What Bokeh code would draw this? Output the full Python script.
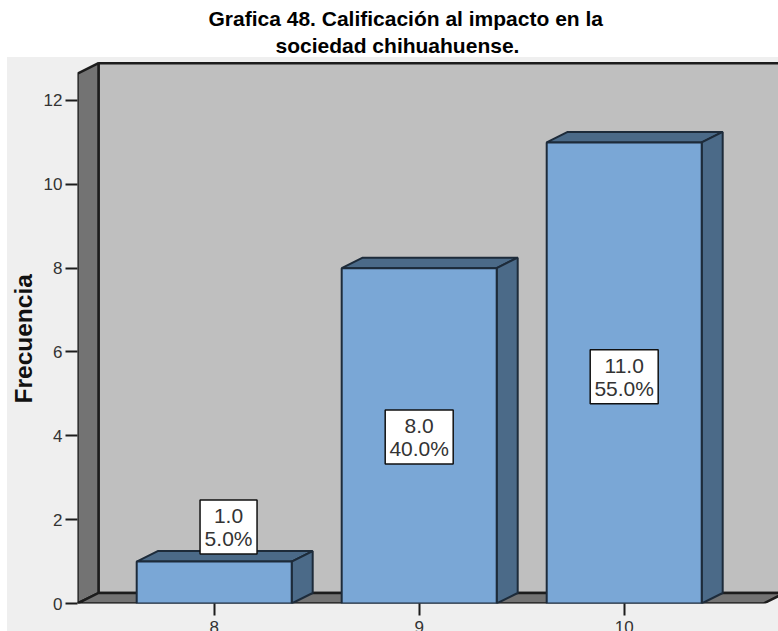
from bokeh.plotting import figure
from bokeh.embed import file_html
from bokeh.resources import INLINE
from bokeh.models import FixedTicker, Title
from bokeh.core.properties import value

categories = [8, 9, 10]
frequencies = [1.0, 8.0, 11.0]
percents = [5.0, 40.0, 55.0]
y_ticks = [0, 2, 4, 6, 8, 10, 12]
title_lines = ["Grafica 48. Calificación al impacto en la", "sociedad chihuahuense."]
title_left = [208, 275]
y_label = "Frecuencia"
label_shift_x = [0.07, 0.0, 0.0]
label_y = [1.825, 3.97, 5.41]

W, H = 778, 631
L, R, T, B = 77, 778, 57, 603
PX_X, PX_Y = 205.0, 41.92
X0 = 213.7
x_lo = 8 + (L - X0) / PX_X
x_hi = 8 + (R - X0) / PX_X
y_top = (B - T) / PX_Y
DX, DY = 21 / PX_X, 10.5 / PX_Y
bar_w = 155 / PX_X
wall_top = 12.64

BACK = "#bfbfbf"; WALL = "#737373"; PAGE = "#efefef"; LINE = "#1c1c1c"
FRONT = "#7aa7d6"; SIDE = "#4b6a88"; BAR_LINE = "#1d2b3a"; TXT = "#333333"

p = figure(width=W, height=H, frame_width=R - L, frame_height=B - T,
           x_range=(x_lo, x_hi), y_range=(0, y_top),
           output_backend="svg", toolbar_location=None,
           min_border_left=L, min_border_right=0, min_border_top=T, min_border_bottom=H - B)
p.styles = {"position": "absolute", "left": "0px", "top": "0px",
            "background": f"linear-gradient({PAGE},{PAGE}) 7px {T}px / {W - 7}px {H - T}px no-repeat, white"}
p.grid.visible = False
p.outline_line_color = None
p.background_fill_color = PAGE
p.border_fill_color = None

# walls and floor
wl = x_lo
p.patch([wl + DX, x_hi + 1, x_hi + 1, wl + DX], [DY, DY, wall_top + DY, wall_top + DY],
        fill_color=BACK, line_color=LINE, line_width=2.5)
p.patch([wl, wl + DX, wl + DX, wl], [0, DY, wall_top + DY, wall_top],
        fill_color=WALL, line_color=LINE, line_width=2.5)
floor_end = 8 + (763 - X0) / PX_X
p.patch([wl, wl + DX, floor_end + DX, floor_end], [0, DY, DY, 0],
        fill_color=WALL, line_color=LINE, line_width=2.5)

# bars
for c, f in zip(categories, frequencies):
    l, r = c - bar_w / 2, c + bar_w / 2
    p.patch([l, l + DX, r + DX, r], [f, f + DY, f + DY, f], fill_color=SIDE, line_color=BAR_LINE, line_width=2)
    p.patch([r, r + DX, r + DX, r], [0, DY, f + DY, f], fill_color=SIDE, line_color=BAR_LINE, line_width=2)
p.quad(left=[c - bar_w / 2 for c in categories], right=[c + bar_w / 2 for c in categories],
       bottom=0, top=frequencies, fill_color=FRONT, line_color=BAR_LINE, line_width=2)

# value labels
for c, f, pct, sx, ly in zip(categories, frequencies, percents, label_shift_x, label_y):
    cx = c + sx
    bw = (57 if pct < 10 else 68) / PX_X
    p.rect([cx], [ly], width=bw, height=54 / PX_Y, fill_color="white", line_color="#111111", line_width=1.5)
    p.text([cx], [ly], text=[f"{f:.1f}\n{pct:.1f}%"], text_align="center", text_baseline="middle",
           text_font=value("Liberation Sans"), text_font_size="21px", text_color=TXT, text_line_height=1.0)

# axes
ax = p.yaxis[0]
ax.ticker = FixedTicker(ticks=y_ticks)
ax.axis_line_color = None
ax.major_tick_line_color = LINE
ax.major_tick_line_width = 2
ax.major_tick_in = 0
ax.major_tick_out = 12
ax.minor_tick_line_color = None
ax.major_label_text_font = "Liberation Sans"
ax.major_label_text_font_size = "17px"
ax.major_label_text_color = TXT
ax.major_label_standoff = 3

p.add_layout(Title(text=y_label, align="left", offset=200, text_font="Liberation Sans",
                   text_font_style="bold", text_font_size="24.5px", text_color="#111111",
                   standoff=8), "left")

bx = p.xaxis[0]
bx.ticker = FixedTicker(ticks=categories)
bx.axis_line_color = None
bx.major_tick_line_color = LINE
bx.major_tick_line_width = 2
bx.major_tick_in = 0
bx.major_tick_out = 12
bx.minor_tick_line_color = None
bx.major_label_text_font = "Liberation Sans"
bx.major_label_text_font_size = "17px"
bx.major_label_text_color = TXT
bx.major_label_standoff = 5

for line, left in reversed(list(zip(title_lines, title_left))):
    p.add_layout(Title(text=line, align="left", offset=left - L, text_font="Liberation Sans",
                       text_font_size="21px", text_font_style="bold", text_color="#000000",
                       standoff=2), "above")

open("out.html", "w").write(file_html(p, INLINE))
